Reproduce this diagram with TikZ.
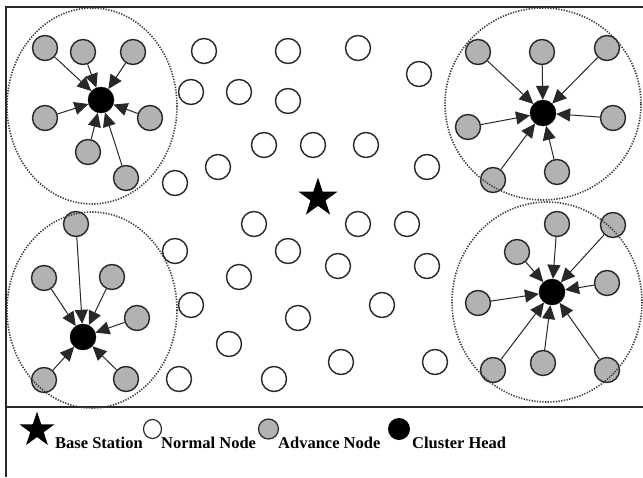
\documentclass[tikz,border=0pt]{standalone}
\usepackage{fontspec}
\setmainfont{Liberation Serif}
\usetikzlibrary{shapes.geometric,arrows.meta}
\definecolor{edge}{RGB}{40,40,40}
\definecolor{advfill}{RGB}{178,178,178}
\definecolor{zonecol}{RGB}{60,60,60}
\tikzset{
  normal/.style={circle,draw=edge,line width=1.4pt,fill=white,minimum size=25pt,inner sep=0pt},
  adv/.style={circle,draw=edge,line width=1.4pt,fill=advfill,minimum size=25pt,inner sep=0pt},
  head/.style={circle,fill=black,draw=black,minimum size=26pt,inner sep=0pt},
  bs/.style={star,star points=5,star point ratio=2.6,fill=black,inner sep=0pt},
  link/.style={draw=edge,line width=1pt,-{Triangle[length=14pt,width=13pt]}},
  zone/.style={draw=zonecol,line width=1.6pt,dash pattern=on 1.3pt off 1.4pt},
  frameline/.style={draw=edge,line width=1.5pt},
  legtext/.style={font=\fontsize{16.5}{18}\selectfont\bfseries,inner sep=0pt,anchor=base west}
}
\begin{document}
\begin{tikzpicture}[x=1pt,y=-1pt]
\useasboundingbox (0,0) rectangle (643,477);
\fill[white] (0,0) rectangle (643,477);

% frame and legend separator
\coordinate (ftl) at (6,7);
\coordinate (ftr) at (643,7);
\coordinate (fbl) at (6,477);
\coordinate (sl) at (6,407);
\coordinate (sr) at (643,407);
\draw[frameline] (ftr) -- (ftl) -- (fbl);
\draw[frameline] (sl) -- (sr);

% normal nodes
\foreach \i/\p in {1/{204,51},2/{288,51},3/{358,48},4/{419,74},5/{191,92},6/{239,92},
  7/{288,101},8/{264,145},9/{313,145},10/{366,145},11/{218,167},12/{427,167},13/{175,183},
  14/{254,224},15/{358,224},16/{407,224},17/{175,251},18/{288,251},19/{338,266},20/{427,266},
  21/{239,277},22/{191,305},23/{382,305},24/{298,318},25/{229,344},26/{341,362},27/{435,362},
  28/{179,379},29/{274,379}}
  \node[normal] (n\i) at (\p) {};

% base station
\node[bs,minimum size=41pt] (bs) at (318,198) {};

% cluster heads
\node[head] (h1) at (101,100) {};
\node[head] (h2) at (543,113) {};
\node[head] (h3) at (83,337) {};
\node[head] (h4) at (552,292) {};

% advance nodes of each cluster, linked to their head
\foreach \i/\p in {1/{45,48},2/{83,52},3/{133,52},4/{45,118},5/{150,118},6/{88,152},7/{126,178}}{
  \node[adv] (a\i) at (\p) {};
  \draw[link] (a\i) -- (h1);
}
\foreach \i/\p in {1/{478,52},2/{542,52},3/{607,48},4/{468,127},5/{613,118},6/{493,180},7/{557,172}}{
  \node[adv] (b\i) at (\p) {};
  \draw[link] (b\i) -- (h2);
}
\foreach \i/\p in {1/{76,224},2/{44,278},3/{112,277},4/{137,318},5/{44,380},6/{126,379}}{
  \node[adv] (c\i) at (\p) {};
  \draw[link] (c\i) -- (h3);
}
\foreach \i/\p in {1/{557,224},2/{613,225},3/{517,252},4/{607,283},5/{478,303},6/{493,370},7/{543,363},8/{607,370}}{
  \node[adv] (d\i) at (\p) {};
  \draw[link] (d\i) -- (h4);
}

% cluster ranges
\draw[zone] (92,106) ellipse [x radius=85, y radius=98];
\draw[zone] (543,104) ellipse [x radius=98, y radius=96];
\draw[zone] (92,310) ellipse [x radius=85, y radius=98];
\draw[zone] (547,302) ellipse [x radius=95, y radius=100];

% legend
\node[bs,minimum size=37pt] (kbs) at (37,430) {};
\node[legtext] (tbs) at (55,448) {Base Station};
\node[ellipse,draw=edge,line width=1.2pt,fill=white,minimum width=18pt,minimum height=19pt,inner sep=0pt] (knn) at (152.5,429) {};
\node[legtext] (tnn) at (161,448) {Normal Node};
\node[ellipse,draw=edge,line width=1.2pt,fill=advfill,minimum width=20pt,minimum height=20pt,inner sep=0pt] (kan) at (268.5,429) {};
\node[legtext] (tan) at (278,448) {Advance Node};
\node[ellipse,fill=black,minimum width=22pt,minimum height=22pt,inner sep=0pt] (kch) at (399,429) {};
\node[legtext] (tch) at (412,448) {Cluster Head};
\end{tikzpicture}
\end{document}
